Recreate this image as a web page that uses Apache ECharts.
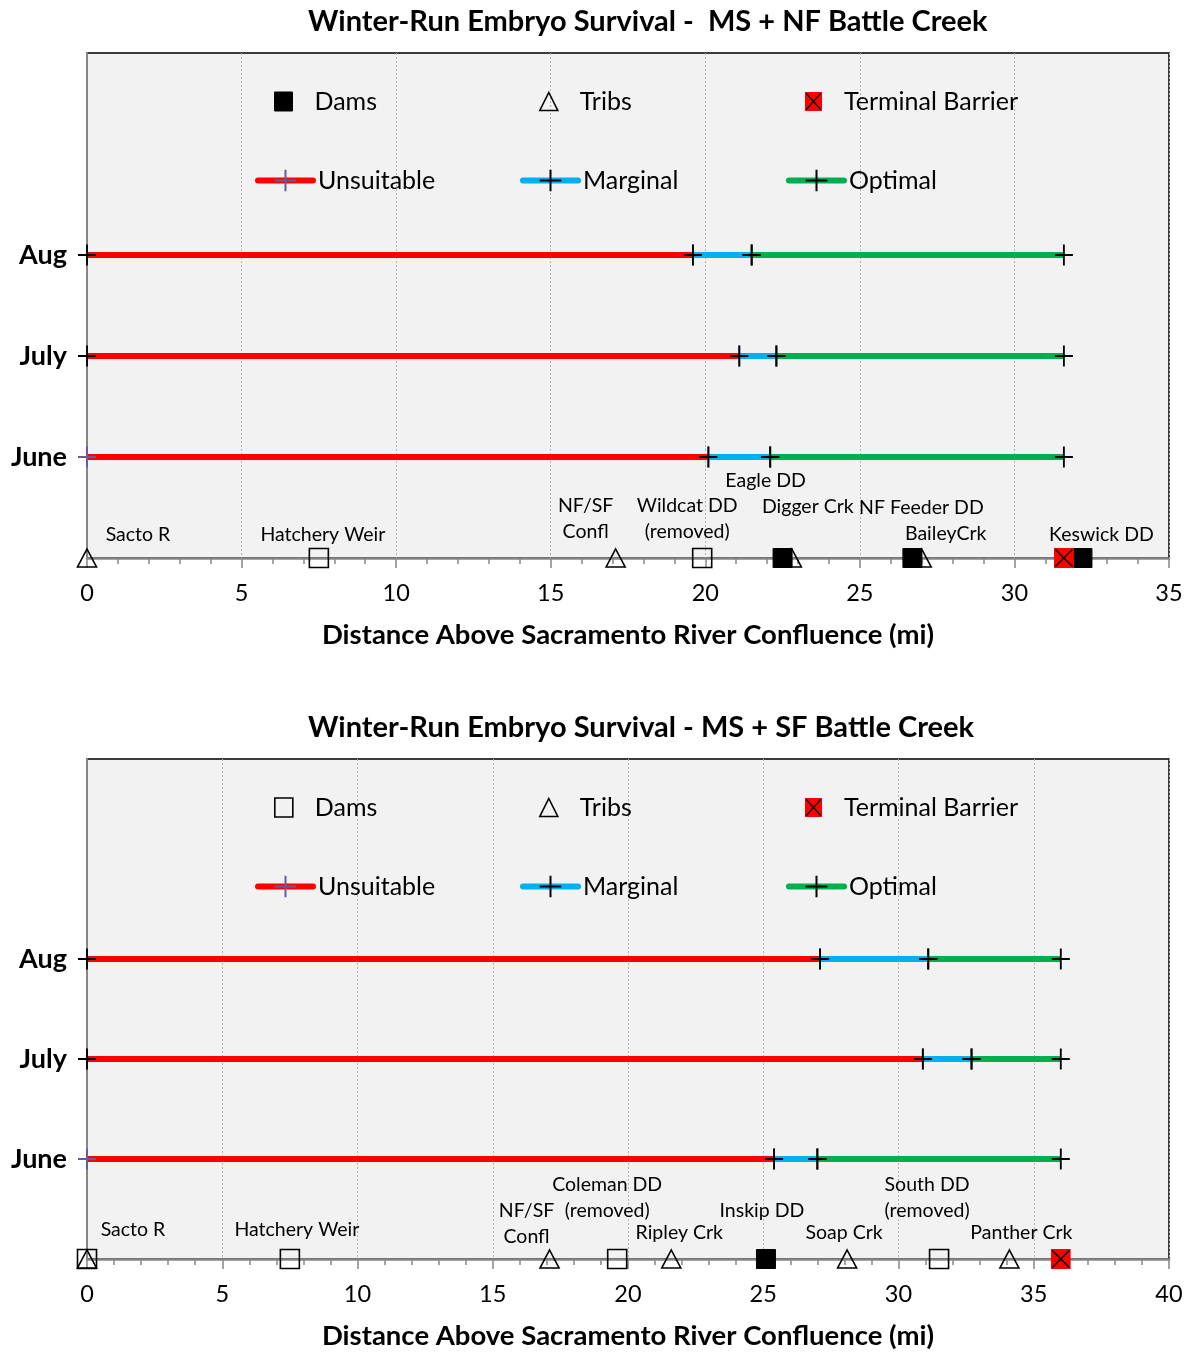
<!DOCTYPE html>
<html><head><meta charset="utf-8">
<script src="https://cdn.jsdelivr.net/npm/echarts@6/dist/echarts.min.js"></script>
<style>body{margin:0;background:#fff}#c1{width:1189px;height:706px}#c2{width:1189px;height:649px}</style>
</head><body><div id="c1"></div><div id="c2"></div>
<script>
// ---------- DATA ----------
const months = ['June', 'July', 'Aug'];
const legendNames = ['Dams', 'Tribs', 'Terminal Barrier', 'Unsuitable', 'Marginal', 'Optimal'];

// Chart 1: MS + NF Battle Creek (values per month: June, July, Aug)
const nfTitle = 'Winter-Run Embryo Survival -  MS + NF Battle Creek';
const nfXMax = 35;
const nfStart = [0, 0, 0];
const nfUnsuitableEnd = [20.1, 21.1, 19.6];
const nfMarginalEnd = [22.1, 22.3, 21.5];
const nfOptimalEnd = [31.6, 31.6, 31.6];
const nfDams = [22.5, 26.7, 32.2];          // filled squares
const nfOtherDams = [7.5, 19.9];            // open squares
const nfTribs = [0, 17.1, 22.8, 27.0];
const nfBarrier = [31.6];
const nfSiteNames = ['Sacto R', 'Hatchery Weir', 'NF/SF\nConfl', 'Wildcat DD\n(removed)', 'Eagle DD', 'Digger Crk', 'NF Feeder DD', 'BaileyCrk', 'Keswick DD'];
const nfSiteMiles = [0, 7.5, 17.1, 19.9, 22.5, 22.8, 26.7, 27.0, 32.2];

// Chart 2: MS + SF Battle Creek
const sfTitle = 'Winter-Run Embryo Survival - MS + SF Battle Creek';
const sfXMax = 40;
const sfStart = [0, 0, 0];
const sfUnsuitableEnd = [25.4, 30.9, 27.1];
const sfMarginalEnd = [27.0, 32.7, 31.1];
const sfOptimalEnd = [36.0, 36.0, 36.0];
const sfDams = [0, 7.5, 19.6, 31.5];        // open squares
const sfOtherDams = [25.1];                 // filled square
const sfTribs = [0, 17.1, 21.6, 28.1, 34.1];
const sfBarrier = [36.0];
const sfSiteNames = ['Sacto R', 'Hatchery Weir', 'NF/SF\nConfl', 'Coleman DD\n(removed)', 'Ripley Crk', 'Inskip DD', 'Soap Crk', 'South DD\n(removed)', 'Panther Crk'];
const sfSiteMiles = [0, 7.5, 17.1, 19.6, 21.6, 25.1, 28.1, 31.5, 34.1];

// ---------- LAYOUT / STYLE ----------
const nfLabelOffsets = [[51, -23], [4, -23], [-30, -39], [-15, -39], [-17, -77], [16, -51], [9, -50], [24, -24], [19, -23]];
const sfLabelOffsets = [[46, -29], [7, -29], [-23, -35], [-10, -61], [8, -26], [-4, -48], [-3, -26], [-12, -61], [12, -26]];
const startCrossColors = ['#6a5a9a', '#000', '#000'];   // June, July, Aug

const FONT = 'Lato, "Liberation Sans", sans-serif';
const CROSS = 'path://M9,0V21M0,10.5H18';
const svg = '<svg xmlns="http://www.w3.org/2000/svg" width="20" height="20" viewBox="0 0 20 20"><rect width="20" height="20" fill="#ff0000"/><path d="M1.5,1.5L18.5,18.5M18.5,1.5L1.5,18.5" stroke="#000" stroke-width="1.6"/></svg>';
const BARRIER = 'image://data:image/svg+xml;charset=utf-8,' + encodeURIComponent(svg);
const OPEN = 'rgba(0,0,0,0)';
const LEG_FONT = 25;

function build(cfg) {
  const series = [];
  const segs = [
    ['Unsuitable', '#ff0000', cfg.start, cfg.unsuit, '#6a5a9a'],
    ['Marginal', '#00b0f0', cfg.unsuit, cfg.marg, '#000'],
    ['Optimal', '#00b050', cfg.marg, cfg.opt, '#000']
  ];
  segs.forEach(([name, color, a, b, mc], si) => {
    months.forEach((m, i) => {
      const first = si === 0
        ? { value: [a[i], i + 1], itemStyle: { color: startCrossColors[i], borderColor: startCrossColors[i] } }
        : [a[i], i + 1];
      series.push({
        type: 'line', name, clip: false, animation: false,
        data: [first, [b[i], i + 1]],
        symbol: CROSS, symbolSize: [18, 21], showSymbol: true,
        lineStyle: { color, width: 6 },
        itemStyle: { color: mc, borderColor: mc, borderWidth: 2 }
      });
    });
  });
  const mk = (arr) => arr.map(v => [v, 0]);
  const filled = { color: '#000', borderColor: '#000', borderWidth: 1, opacity: 1 };
  const open = { color: OPEN, borderColor: '#000', borderWidth: 1.6, opacity: 1 };
  series.push({
    type: 'scatter', name: 'Tribs', clip: false, animation: false,
    data: mk(cfg.tribs), symbol: 'triangle', symbolSize: [19, 18],
    itemStyle: open
  });
  series.push({
    type: 'scatter', name: 'Dams', clip: false, animation: false,
    data: mk(cfg.dams), symbol: 'rect', symbolSize: 19,
    itemStyle: cfg.damsFilled ? filled : open
  });
  series.push({
    type: 'scatter', name: 'Other Dams', clip: false, animation: false,
    data: mk(cfg.otherDams), symbol: 'rect', symbolSize: 19,
    itemStyle: cfg.damsFilled ? open : filled
  });
  series.push({
    type: 'scatter', name: 'Terminal Barrier', clip: false, animation: false,
    data: mk(cfg.barrier), symbol: BARRIER, symbolSize: 20,
    itemStyle: { color: '#ff0000', opacity: 1 }
  });
  series.push({
    type: 'scatter', name: 'Site labels', clip: false, animation: false, silent: true,
    symbol: 'circle', symbolSize: 1, itemStyle: { color: OPEN, opacity: 1 },
    data: cfg.siteMiles.map((v, i) => ({
      value: [v, 0],
      label: {
        show: true, position: 'inside', formatter: cfg.siteNames[i],
        offset: cfg.offsets[i], fontSize: 19.5, lineHeight: 26, color: '#000', opacity: 1,
        fontFamily: FONT, align: 'center', verticalAlign: 'middle'
      }
    }))
  });

  const txt = (pad) => ({ fontSize: LEG_FONT, color: '#000', fontFamily: FONT, padding: pad });
  const lg = (name, left, top, w, h, extra) => Object.assign({
    data: [name], left, top, padding: 0, itemWidth: w, itemHeight: h,
    symbolKeepAspect: false, selectedMode: false,
    textStyle: txt([0, 0, 0, 0])
  }, extra || {});
  const legends = [
    lg('Dams', 274, 89, 18, 19, { itemStyle: cfg.damsFilled ? filled : open, textStyle: txt([0, 0, 0, 17]) }),
    lg('Tribs', 539, 89, 18, 18, { itemStyle: open, textStyle: txt([0, 0, 0, 17]) }),
    lg('Terminal Barrier', 805, 89, 17, 19, { textStyle: txt([0, 0, 0, 17]) }),
    lg('Unsuitable', 255, 168, 55, 27, { itemStyle: { color: '#6a5a9a', borderColor: '#6a5a9a', borderWidth: 2 }, lineStyle: { width: 6, cap: 'round' } }),
    lg('Marginal', 520, 168, 55, 27, { itemStyle: { color: '#000', borderColor: '#000', borderWidth: 2 }, lineStyle: { width: 6, cap: 'round' } }),
    lg('Optimal', 786, 168, 55, 27, { itemStyle: { color: '#000', borderColor: '#000', borderWidth: 2 }, lineStyle: { width: 6, cap: 'round' } })
  ];

  return {
    animation: false,
    backgroundColor: '#fff',
    title: {
      text: cfg.title, left: 308, top: 7, padding: 0,
      textStyle: { fontSize: 29, fontWeight: 'bold', color: '#000', fontFamily: FONT }
    },
    legend: legends,
    grid: {
      left: 87, top: 53, width: 1082, height: 505, show: true,
      backgroundColor: '#f2f2f2', borderColor: '#000', borderWidth: 1.5
    },
    xAxis: {
      type: 'value', min: 0, max: cfg.xMax, interval: 5,
      name: 'Distance Above Sacramento River Confluence (mi)',
      nameLocation: 'middle', nameGap: 63,
      nameTextStyle: { fontSize: 27.5, fontWeight: 'bold', color: '#000', fontFamily: FONT },
      axisLine: { show: true, lineStyle: { color: '#868686', width: 2.5 } },
      axisTick: { show: true, length: 10, lineStyle: { color: '#868686', width: 1.5 } },
      minorTick: { show: true, splitNumber: 5, length: 6, lineStyle: { color: '#868686', width: 1.5 } },
      axisLabel: { fontSize: 23.5, color: '#000', margin: 23, fontFamily: FONT },
      splitLine: { show: true, lineStyle: { color: '#b4b4b4', width: 1, type: [2, 2] } }
    },
    yAxis: {
      type: 'value', min: 0, max: 5, interval: 1,
      axisLine: { show: true, lineStyle: { color: '#868686', width: 2 } },
      axisTick: { show: false },
      axisLabel: {
        customValues: [1, 2, 3], formatter: v => months[v - 1] || '',
        fontSize: 27, fontWeight: 'bold', color: '#000', margin: 20, fontFamily: FONT
      },
      splitLine: { show: false }
    },
    series
  };
}

const c1 = echarts.init(document.getElementById('c1'), null, { renderer: 'canvas' });
c1.setOption(build({
  title: nfTitle, xMax: nfXMax, start: nfStart, unsuit: nfUnsuitableEnd, marg: nfMarginalEnd, opt: nfOptimalEnd,
  dams: nfDams, otherDams: nfOtherDams, damsFilled: true, tribs: nfTribs, barrier: nfBarrier,
  siteNames: nfSiteNames, siteMiles: nfSiteMiles, offsets: nfLabelOffsets
}));
const c2 = echarts.init(document.getElementById('c2'), null, { renderer: 'canvas' });
c2.setOption(build({
  title: sfTitle, xMax: sfXMax, start: sfStart, unsuit: sfUnsuitableEnd, marg: sfMarginalEnd, opt: sfOptimalEnd,
  dams: sfDams, otherDams: sfOtherDams, damsFilled: false, tribs: sfTribs, barrier: sfBarrier,
  siteNames: sfSiteNames, siteMiles: sfSiteMiles, offsets: sfLabelOffsets
}));
</script></body></html>
